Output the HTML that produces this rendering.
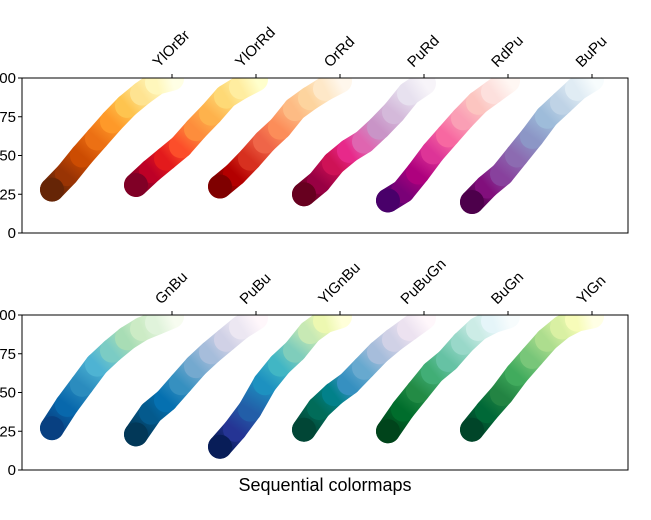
<!DOCTYPE html>
<html><head><meta charset="utf-8"><style>
html,body{margin:0;padding:0;background:#fff;overflow:hidden}
svg{display:block;font-family:"Liberation Sans","DejaVu Sans",sans-serif}
</style></head><body>
<svg id="chart" width="651" height="520" xmlns="http://www.w3.org/2000/svg">
<defs>
<clipPath id="clip1"><rect x="22" y="78" width="606" height="155"/></clipPath>
<clipPath id="clip2"><rect x="22" y="315" width="606" height="155"/></clipPath>
</defs>
<text x="325" y="491" text-anchor="middle" font-size="18" fill="#000">Sequential colormaps</text>
</svg>
<script>
// Panel 1 colormaps (dark -> light)
const names1 = ["YlOrBr","YlOrRd","OrRd","PuRd","RdPu","BuPu"];
const lightness1 = [
 [28,38,50,61,72,82,90,97,99.5],
 [31,40,48,56,67,77,88,94,99],
 [30,38,48,59,68,80,87,93,98],
 [25,33,45,53,59,68,78,90,96.5],
 [21,27,39,52,63,74,84,91,98],
 [20,30,38,50,62,75,84,93,99]
];
const colors1 = [
 ["#662506","#993404","#cc4c02","#ec7014","#fe9929","#fec44f","#fee391","#fff7bc","#ffffe5"],
 ["#800026","#bd0026","#e31a1c","#fc4e2a","#fd8d3c","#feb24c","#fed976","#ffeda0","#ffffcc"],
 ["#7f0000","#b30000","#d7301f","#ef6548","#fc8d59","#fdbb84","#fdd49e","#fee8c8","#fff7ec"],
 ["#67001f","#980043","#ce1256","#e7298a","#df65b0","#c994c7","#d4b9da","#e7e1ef","#f7f4f9"],
 ["#49006a","#7a0177","#ae017e","#dd3497","#f768a1","#fa9fb5","#fcc5c0","#fde0dd","#fff7f3"],
 ["#4d004b","#810f7c","#88419d","#8c6bb1","#8c96c6","#9ebcda","#bfd3e6","#e0ecf4","#f7fcfd"]
];
// Panel 2 colormaps
const names2 = ["GnBu","PuBu","YlGnBu","PuBuGn","BuGn","YlGn"];
const lightness2 = [
 [27,42,55,68,77,85,91,95,99],
 [23,37,45,56,67,76,84,92,98],
 [15,26,39,56,68,77,89,96,99],
 [26,40,49,56,66,76,84,91,98],
 [25,39,51,63,71,82,91,96,99],
 [26,38,49,62,73,84,92,97,99]
];
const colors2 = [
 ["#084081","#0868ac","#2b8cbe","#4eb3d3","#7bccc4","#a8ddb5","#ccebc5","#e0f3db","#f7fcf0"],
 ["#023858","#045a8d","#0570b0","#3690c0","#74a9cf","#a6bddb","#d0d1e6","#ece7f2","#fff7fb"],
 ["#081d58","#253494","#225ea8","#1d91c0","#41b6c4","#7fcdbb","#c7e9b4","#edf8b1","#ffffd9"],
 ["#014636","#016c59","#02818a","#3690c0","#67a9cf","#a6bddb","#d0d1e6","#ece2f0","#fff7fb"],
 ["#00441b","#006d2c","#238b45","#41ae76","#66c2a4","#99d8c9","#ccece6","#e5f5f9","#f7fcfd"],
 ["#004529","#006837","#238443","#41ab5d","#78c679","#addd8e","#d9f0a3","#f7fcb9","#ffffe5"]
];
const yTicks = [0,25,50,75,100];
const yTickLabels = ["0","25","50","75","100"];

const NS = "http://www.w3.org/2000/svg";
const svg = document.getElementById("chart");
function mk(tag, attrs, parent){const e=document.createElementNS(NS,tag);for(const k in attrs)e.setAttribute(k,attrs[k]);(parent||svg).appendChild(e);return e;}
const defs = svg.querySelector("defs");
let gid = 0;

function drawPanel(top, names, Ls, cols, clipId, pidx){
  const left=22, w=606, h=155;
  const y = v => top + h - v/100*h;
  const mapX = (j, t) => 52 + j*84 + t*120;
  const g = mk("g",{"clip-path":"url(#"+clipId+")"});
  
  
  names.forEach((nm, j) => {
    const L = Ls[j], C = cols[j], n = L.length;
    const sg = mk("g",{},g);
    
    
    for(let i=0;i<n-1;i++){
      const x1=mapX(j,i/(n-1)), y1=y(L[i]), x2=mapX(j,(i+1)/(n-1)), y2=y(L[i+1]);
      const id="gr"+(gid++);
      const lg=mk("linearGradient",{id:id,gradientUnits:"userSpaceOnUse",x1:x1,y1:y1,x2:x2,y2:y2},defs);
      mk("stop",{offset:"0","stop-color":C[i]},lg);
      mk("stop",{offset:"1","stop-color":C[i+1]},lg);
      const seg = mk("line",{x1:x1,y1:y1,x2:x2,y2:y2,stroke:"url(#"+id+")","stroke-width":24,"stroke-linecap":"round"},sg);
      
      
    }
    // redraw first dot on top of others for dark start
    const d0 = mk("circle",{cx:mapX(j,0),cy:y(L[0]),r:12,fill:C[0]},sg);
    
    
    // ticks and labels at top
    const tx = mapX(j,1);
    const tk = mk("line",{x1:tx,y1:top,x2:tx,y2:top-4,stroke:"#000","stroke-width":1});
    
    
    const t = mk("text",{"font-size":15,fill:"#000"});
    t.textContent = nm;
    
    
    const len = t.getComputedTextLength ? t.getComputedTextLength() : nm.length*8;
    const W = (len + 15)*0.707;
    const px = tx - W/2 + 8, py = top - 10;
    t.setAttribute("transform","translate("+px+","+py+") rotate(-45)");
  });
  const frame = mk("rect",{x:left,y:top,width:w,height:h,fill:"none",stroke:"#000","stroke-width":1});
  
  
  yTicks.forEach((v,k)=>{
    const yy=y(v);
    const tl = mk("line",{x1:left,y1:yy,x2:left-4,y2:yy,stroke:"#000","stroke-width":1});
    
    
    const tt = mk("text",{x:left-6,y:yy+5,"text-anchor":"end","font-size":15,fill:"#000"});
    tt.textContent = yTickLabels[k];
    
    
  });
}
drawPanel(78, names1, lightness1, colors1, "clip1", 1);
drawPanel(315, names2, lightness2, colors2, "clip2", 2);
</script>
</body></html>
